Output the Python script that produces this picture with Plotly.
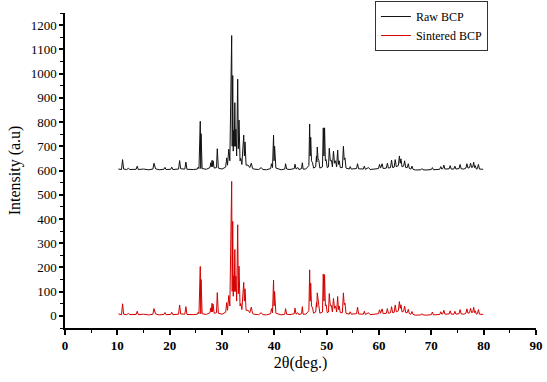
import plotly.graph_objects as go

# XRD patterns: (2-theta in degrees, intensity in a.u.)
raw_bcp = [(10.2,606),(10.8,604),(11.0,645),(11.2,606),(11.8,604),(12.1,609),(12.4,604),(13.6,605),(13.8,618),(14.0,604),
(15.0,606),(16.0,603),(16.8,606),(17.0,630),(17.3,607),(18.0,603),(18.9,605),(19.1,613),(19.3,604),(20.2,605),(20.4,614),
(20.6,604),(21.7,606),(21.9,641),(22.1,607),(22.9,606),(23.1,635),(23.3,605),(24.5,604),(25.3,606),(25.45,614),(25.6,608),
(25.85,803),(25.95,608),(26.0,752),(26.2,608),(27.0,605),(27.7,612),(27.85,632),(27.95,615),(28.1,642),(28.2,616),(28.3,640),
(28.5,610),(28.95,612),(29.1,690),(29.3,610),(30.0,606),(30.7,614),(30.9,652),(31.05,622),(31.3,688),(31.5,640),(31.85,1157),
(31.95,700),(32.05,992),(32.15,680),(32.25,765),(32.35,700),(32.45,880),(32.55,700),(32.65,770),(32.8,660),(33.0,977),(33.12,690),
(33.25,808),(33.45,640),(33.6,650),(33.8,625),(34.15,746),(34.28,660),(34.4,718),(34.6,622),(35.0,622),(35.3,612),(35.6,630),
(35.85,608),(36.1,606),(37.0,604),(37.5,612),(37.8,604),(38.5,603),(39.3,608),(39.45,628),(39.65,612),(39.85,746),(39.95,640),
(40.05,700),(40.3,610),(41.0,606),(41.3,603),(42.0,606),(42.15,628),(42.35,606),(43.0,604),(43.8,608),(43.95,626),(44.15,606),
(44.5,612),(44.7,604),(45.2,608),(45.35,632),(45.5,606),(46.0,606),(46.6,620),(46.75,792),(46.85,660),(46.95,737),(47.1,640),
(47.3,632),(47.5,610),(47.9,615),(48.05,660),(48.12,635),(48.2,697),(48.35,650),(48.5,642),(48.7,610),(49.2,615),(49.35,776),
(49.48,660),(49.6,776),(49.75,640),(49.9,645),(50.1,612),(50.35,615),(50.5,692),(50.7,640),(50.9,642),(51.1,615),(51.3,680),
(51.5,630),(51.7,640),(51.9,615),(52.1,684),(52.25,625),(52.4,640),(52.6,612),(53.0,612),(53.2,700),(53.35,645),(53.5,652),
(53.7,610),(54.3,606),(54.5,616),(54.7,606),(55.7,608),(55.9,628),(56.1,607),(57.0,606),(57.2,618),(57.4,605),(58.0,612),
(58.3,604),(59.0,605),(59.9,608),(60.1,625),(60.3,610),(60.6,628),(60.8,608),(61.4,610),(61.6,630),(61.8,610),(62.2,612),
(62.4,643),(62.6,612),(62.9,614),(63.1,645),(63.3,616),(63.7,620),(63.9,660),(64.05,630),(64.2,648),(64.4,615),(64.7,618),
(64.9,640),(65.1,612),(65.4,612),(65.6,628),(65.8,608),(66.1,606),(66.3,618),(66.5,605),(67.0,602),(68.0,603),(68.2,608),
(68.4,603),(69.0,602),(70.0,604),(70.2,612),(70.4,603),(71.0,603),(71.6,605),(71.8,616),(72.0,606),(72.2,608),(72.4,622),
(72.6,606),(73.0,605),(73.4,607),(73.6,620),(73.8,606),(74.3,606),(74.5,618),(74.7,606),(75.3,608),(75.5,625),(75.7,607),
(76.2,606),(76.6,610),(76.8,628),(77.0,610),(77.3,612),(77.5,630),(77.7,612),(77.9,614),(78.1,634),(78.25,612),(78.4,620),
(78.6,606),(78.8,608),(79.0,625),(79.2,606),(79.6,604),(79.9,605)]

sintered_bcp = [(10.2,8),(10.8,5),(11.0,50),(11.2,7),(11.8,5),(12.1,10),(12.4,5),(13.6,6),(13.8,19),(14.0,5),(15.0,7),
(16.0,4),(16.8,7),(17.0,30),(17.3,8),(18.0,4),(18.9,6),(19.1,14),(19.3,5),(20.2,6),(20.4,15),(20.6,5),(21.7,7),(21.9,45),
(22.1,8),(22.9,7),(23.1,38),(23.3,6),(24.5,5),(25.3,7),(25.45,15),(25.6,9),(25.85,204),(25.95,9),(26.0,150),(26.2,9),(27.0,6),
(27.7,13),(27.85,33),(27.95,16),(28.1,52),(28.2,17),(28.3,48),(28.5,11),(28.95,13),(29.1,96),(29.3,11),(30.0,7),(30.7,15),
(30.9,55),(31.05,23),(31.3,84),(31.5,41),(31.85,555),(31.95,101),(32.05,390),(32.15,81),(32.25,166),(32.35,101),(32.45,274),
(32.55,101),(32.65,164),(32.8,61),(33.0,376),(33.12,91),(33.25,205),(33.45,41),(33.6,51),(33.8,26),(34.15,138),(34.28,61),
(34.4,112),(34.6,23),(35.0,23),(35.3,13),(35.6,36),(35.85,9),(36.1,7),(37.0,5),(37.5,13),(37.8,5),(38.5,4),(39.3,9),(39.45,30),
(39.65,13),(39.85,148),(39.95,41),(40.05,100),(40.3,11),(41.0,7),(41.3,4),(42.0,7),(42.15,30),(42.35,7),(43.0,5),(43.8,9),
(43.95,32),(44.15,7),(44.5,13),(44.7,5),(45.2,9),(45.35,38),(45.5,7),(46.0,7),(46.6,21),(46.75,190),(46.85,61),(46.95,135),
(47.1,41),(47.3,33),(47.5,11),(47.9,16),(48.05,55),(48.12,36),(48.2,95),(48.35,51),(48.5,43),(48.7,11),(49.2,16),(49.35,173),
(49.48,61),(49.6,170),(49.75,41),(49.9,46),(50.1,13),(50.35,16),(50.5,92),(50.7,41),(50.9,43),(51.1,16),(51.3,72),(51.5,31),
(51.7,41),(51.9,16),(52.1,80),(52.25,26),(52.4,41),(52.6,13),(53.0,13),(53.2,95),(53.35,46),(53.5,53),(53.7,11),(54.3,7),
(54.5,17),(54.7,7),(55.7,9),(55.9,36),(56.1,8),(57.0,7),(57.2,19),(57.4,6),(58.0,13),(58.3,5),(59.0,6),(59.9,9),(60.1,25),
(60.3,11),(60.6,29),(60.8,9),(61.4,11),(61.6,30),(61.8,11),(62.2,13),(62.4,38),(62.6,13),(62.9,15),(63.1,45),(63.3,17),
(63.7,21),(63.9,59),(64.05,31),(64.2,46),(64.4,16),(64.7,19),(64.9,40),(65.1,13),(65.4,13),(65.6,27),(65.8,9),(66.1,7),
(66.3,18),(66.5,6),(67.0,3),(68.0,4),(68.2,9),(68.4,4),(69.0,3),(70.0,5),(70.2,16),(70.4,4),(71.0,4),(71.6,6),(71.8,17),
(72.0,7),(72.2,9),(72.4,23),(72.6,7),(73.0,6),(73.4,8),(73.6,21),(73.8,7),(74.3,7),(74.5,19),(74.7,7),(75.3,9),(75.5,26),
(75.7,8),(76.2,7),(76.6,11),(76.8,29),(77.0,11),(77.3,13),(77.5,31),(77.7,13),(77.9,15),(78.1,35),(78.25,13),(78.4,21),
(78.6,7),(78.8,9),(79.0,26),(79.2,7),(79.6,5),(79.9,6)]

series_names = ["Raw BCP", "Sintered BCP"]
series_colors = ["#111111", "#d40000"]
x_ticks = [0, 10, 20, 30, 40, 50, 60, 70, 80, 90]
y_ticks = [0, 100, 200, 300, 400, 500, 600, 700, 800, 900, 1000, 1100, 1200]

raw_x, raw_y = zip(*raw_bcp)
sin_x, sin_y = zip(*sintered_bcp)

fig = go.Figure()
fig.add_trace(go.Scatter(x=raw_x, y=raw_y, mode="lines", name=series_names[0],
                         line=dict(color=series_colors[0], width=1)))
fig.add_trace(go.Scatter(x=sin_x, y=sin_y, mode="lines", name=series_names[1],
                         line=dict(color=series_colors[1], width=1)))

fig.update_layout(
    width=547, height=382,
    margin=dict(l=65, r=11, t=13, b=54, autoexpand=False),
    plot_bgcolor="white", paper_bgcolor="white",
    font=dict(family="Liberation Serif", color="black"),
    showlegend=True,
    legend=dict(x=0.658, y=1.038, xanchor="left", yanchor="top",
                bordercolor="#333333", borderwidth=1, bgcolor="white",
                font=dict(family="Liberation Serif", size=12, color="black"),
                tracegroupgap=0, itemwidth=30),
)
fig.update_xaxes(
    range=[0, 90], tickvals=x_ticks, ticks="outside", ticklen=5, tickwidth=1.5,
    tickcolor="black", showline=True, linewidth=1.5, linecolor="black",
    showgrid=False, zeroline=False, automargin=False,
    minor=dict(ticks="outside", ticklen=3, dtick=5, tick0=0, tickcolor="black", tickwidth=1.2),
    tickfont=dict(family="Liberation Serif", size=13, weight="bold"),
    title=dict(text="2θ(deg.)", font=dict(family="Liberation Serif", size=16), standoff=4),
)
fig.update_yaxes(
    range=[-50, 1250], tickvals=y_ticks, ticks="outside", ticklen=4, tickwidth=1.5,
    tickcolor="black", showline=True, linewidth=1.5, linecolor="black",
    showgrid=False, zeroline=False, automargin=False,
    minor=dict(ticks="outside", ticklen=3, dtick=50, tick0=0, tickcolor="black", tickwidth=1.2),
    tickfont=dict(family="Liberation Serif", size=13),
    title=dict(text="Intensity (a.u)", font=dict(family="Liberation Serif", size=16), standoff=6),
)

fig.write_html("out.html", config={"displayModeBar": False},
               post_script="document.body.style.margin='0';document.body.style.overflow='hidden';")
